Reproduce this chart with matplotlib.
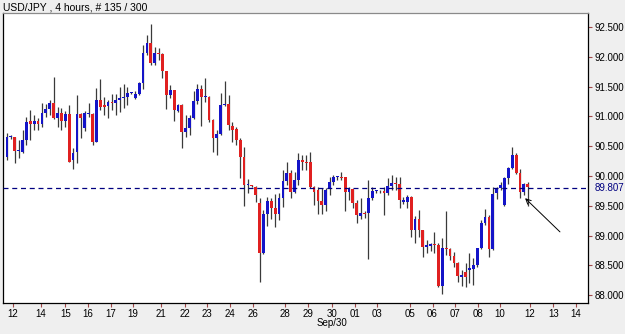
"""
USD/JPY 4-hour candlestick chart, MT4 style.
Saves out.png (625x334).
"""

import matplotlib
matplotlib.use("Agg")
import matplotlib.pyplot as plt
import numpy as np

plt.rcParams["font.family"] = ["Liberation Sans", "DejaVu Sans"]

# OHLC values, one entry per 4h bar
opens = [
    90.32, 90.65, 90.65, 90.42, 90.40, 90.60, 90.92, 90.87, 90.92, 90.87,
    91.06, 91.12, 91.22, 90.97, 91.06, 90.92, 91.04, 90.27, 90.40, 91.04,
    90.81, 91.04, 91.04, 90.57, 91.28, 91.19, 91.17, 91.24, 91.22, 91.28,
    91.31, 91.33, 91.39, 91.31, 91.38, 91.56, 92.06, 92.23, 91.90, 92.06,
    92.05, 91.76, 91.36, 91.44, 91.09, 91.19, 90.74, 90.81, 90.97, 91.26,
    91.46, 91.33, 91.33, 90.94, 90.64, 90.70, 91.19, 91.21, 90.84, 90.79,
    90.60, 90.32, 89.85, 89.84, 89.82, 89.55, 88.71, 89.36, 89.58, 89.46,
    89.36, 89.63, 89.92, 90.05, 89.73, 89.93, 90.27, 90.23, 90.23, 89.82,
    89.76, 89.58, 89.51, 89.78, 89.90, 89.98, 89.98, 89.98, 89.73, 89.78,
    89.55, 89.33, 89.38, 89.38, 89.63, 89.75, 89.74, 89.74, 89.71, 89.83,
    89.88, 89.86, 89.56, 89.56, 89.65, 89.09, 89.28, 89.09, 88.81, 88.83,
    88.85, 88.84, 88.15, 88.79, 88.78, 88.66, 88.54, 88.31, 88.39, 88.42,
    88.44, 88.51, 88.79, 89.21, 89.31, 88.78, 89.71, 89.80, 89.51, 89.97,
    90.13, 90.35, 90.05, 89.73, 89.87,
]
highs = [
    90.72, 90.69, 90.66, 90.60, 90.77, 90.99, 91.11, 91.02, 90.97, 91.22,
    91.21, 91.28, 91.66, 91.16, 91.14, 91.09, 91.19, 90.47, 91.36, 91.06,
    91.09, 91.22, 91.06, 91.48, 91.63, 91.33, 91.28, 91.38, 91.38, 91.50,
    91.55, 91.50, 91.41, 91.42, 91.58, 92.20, 92.37, 92.55, 92.16, 92.15,
    92.06, 91.77, 91.53, 91.45, 91.21, 91.20, 91.02, 91.02, 91.43, 91.55,
    91.53, 91.64, 91.35, 90.95, 90.77, 91.39, 91.59, 91.36, 90.91, 90.82,
    90.64, 90.49, 89.95, 89.85, 89.83, 89.63, 89.43, 89.65, 89.63, 89.70,
    89.71, 90.10, 90.23, 90.10, 90.07, 90.39, 90.35, 90.35, 90.40, 89.83,
    89.82, 89.80, 89.80, 89.98, 90.02, 90.00, 90.07, 89.99, 89.82, 89.79,
    89.60, 89.63, 89.41, 89.93, 89.82, 89.77, 89.76, 89.82, 89.97, 90.02,
    89.98, 89.98, 89.65, 89.68, 89.66, 89.33, 89.43, 89.10, 88.93, 88.88,
    89.06, 88.88, 88.96, 89.41, 88.79, 88.72, 88.56, 88.42, 88.54, 88.71,
    88.62, 88.80, 89.26, 89.45, 89.35, 89.82, 89.82, 89.90, 89.98, 90.15,
    90.49, 90.39, 90.12, 89.88, 89.90,
]
lows = [
    90.27, 90.62, 90.22, 90.30, 90.39, 90.52, 90.60, 90.77, 90.77, 90.82,
    90.99, 91.02, 90.96, 90.82, 90.77, 90.82, 90.23, 90.12, 90.22, 90.64,
    90.76, 90.99, 90.52, 90.57, 91.11, 91.02, 90.97, 91.11, 91.02, 91.07,
    91.14, 91.19, 91.37, 91.29, 91.36, 91.46, 92.03, 91.86, 91.86, 91.95,
    91.64, 91.12, 91.31, 90.92, 91.07, 90.47, 90.65, 90.69, 90.96, 91.21,
    90.84, 91.24, 90.91, 90.40, 90.35, 90.69, 91.18, 90.77, 90.57, 90.52,
    89.97, 89.50, 89.71, 89.82, 89.56, 88.22, 88.69, 89.16, 89.28, 89.14,
    89.26, 89.48, 89.85, 89.63, 89.71, 89.85, 90.10, 90.10, 89.80, 89.51,
    89.36, 89.36, 89.41, 89.68, 89.85, 89.93, 89.93, 89.41, 89.60, 89.46,
    89.21, 89.28, 89.30, 88.61, 89.60, 89.72, 89.71, 89.35, 89.68, 89.76,
    89.76, 89.46, 89.53, 89.46, 88.98, 88.88, 88.98, 88.64, 88.71, 88.74,
    88.71, 88.14, 88.02, 88.67, 88.59, 88.47, 88.22, 88.15, 88.14, 88.20,
    88.17, 88.48, 88.78, 89.18, 88.64, 88.76, 89.61, 89.76, 89.50, 89.87,
    90.12, 90.03, 89.63, 89.68, 89.50,
]
closes = [
    90.65, 90.66, 90.42, 90.43, 90.60, 90.91, 90.87, 90.92, 90.87, 91.06,
    91.12, 91.22, 90.97, 91.06, 90.92, 91.04, 90.23, 90.39, 91.04, 90.97,
    91.06, 91.05, 90.57, 91.28, 91.16, 91.16, 91.24, 91.23, 91.28, 91.31,
    91.31, 91.39, 91.39, 91.38, 91.56, 92.06, 92.23, 91.90, 92.06, 92.05,
    91.76, 91.36, 91.44, 91.11, 91.19, 90.74, 90.81, 90.97, 91.26, 91.46,
    91.33, 91.34, 90.94, 90.64, 90.70, 91.19, 91.21, 90.86, 90.77, 90.60,
    90.32, 89.85, 89.86, 89.83, 89.68, 88.71, 89.36, 89.58, 89.46, 89.36,
    89.63, 89.92, 90.05, 89.73, 89.93, 90.27, 90.23, 90.22, 89.82, 89.73,
    89.58, 89.51, 89.76, 89.90, 89.98, 89.98, 89.97, 89.73, 89.78, 89.55,
    89.35, 89.38, 89.37, 89.63, 89.75, 89.75, 89.74, 89.71, 89.83, 89.88,
    89.86, 89.60, 89.60, 89.65, 89.09, 89.28, 89.09, 88.81, 88.84, 88.86,
    88.84, 88.15, 88.79, 88.78, 88.66, 88.54, 88.32, 88.34, 88.31, 88.46,
    88.51, 88.79, 89.21, 89.31, 88.78, 89.70, 89.80, 89.85, 89.97, 90.13,
    90.35, 90.05, 89.73, 89.87, 89.81,
]

last_price = 89.807
price_ticks = [88.0, 88.5, 89.0, 89.5, 90.0, 90.5, 91.0, 91.5, 92.0, 92.5]

# date labels and the bar index they sit under
date_labels = ["12", "14", "15", "16", "17", "19", "21", "22", "23", "24", "26", "28",
               "29", "30", "01", "03", "05", "06", "07", "08", "10", "12", "13", "14"]
date_pos = [1.5, 8.75, 15.0, 20.9, 26.8, 32.3, 39.7, 45.8, 51.5, 57.4, 63.2, 71.6,
            77.5, 83.7, 89.6, 95.1, 103.7, 109.5, 115.4, 121.3, 126.9, 134.6, 140.6, 146.4]

UP = "#1414c8"
DOWN = "#e02020"
TICK_C = "#a04848"

fig = plt.figure(figsize=(6.25, 3.34), dpi=100, facecolor="#efefef")
ax = fig.add_axes([3 / 625, 1 - 303 / 334, 585 / 625, 290 / 334])
ax.set_facecolor("white")

o = np.array(opens)
h = np.array(highs)
l = np.array(lows)
c = np.array(closes)
x = np.arange(len(o))
up = c >= o
colors = np.where(up, UP, DOWN)

ax.vlines(x, l, h, color="#3a3a3a", lw=0.9, zorder=2)
body = np.maximum(np.abs(c - o), 0.015)
ax.bar(x, body, bottom=np.minimum(o, c), width=0.72, color=colors,
       linewidth=0, zorder=3)

# current price line
ax.axhline(last_price, color="#000080", lw=0.9, ls=(0, (4, 3)), zorder=4)

# arrow pointing at the last bars
ax.annotate("", xy=(132.8, 89.66), xytext=(142.8, 89.03),
            arrowprops=dict(arrowstyle="->", color="black", lw=0.7,
                            mutation_scale=9))

ax.set_xlim(-1.03, 149.5)
ax.set_ylim(87.869, 92.735)

ax.yaxis.tick_right()
ax.set_yticks(price_ticks)
ax.set_yticklabels([f"{v:.3f}" for v in price_ticks])
ax.set_xticks(date_pos)
ax.set_xticklabels(date_labels)
ax.tick_params(axis="both", colors=TICK_C, labelcolor="black", labelsize=7,
               length=3, width=0.8, pad=1.5)

for s in ax.spines.values():
    s.set_color("black")
    s.set_linewidth(0.9)
ax.spines["top"].set_color("#8a8a8a")

# last price label on the right axis
ax.annotate(f"{last_price:.3f}", xy=(1.0, last_price),
            xycoords=("axes fraction", "data"), xytext=(4.5, 0),
            textcoords="offset points", va="center", ha="left",
            fontsize=7, color="#000080")

ax.text(83.7, -0.07, "Sep/30", transform=ax.get_xaxis_transform(),
        ha="center", va="center", fontsize=7)

fig.text(3 / 625, 1 - 7.5 / 334, "USD/JPY , 4 hours, # 135 / 300",
         ha="left", va="center", fontsize=7.5)

fig.savefig("out.png", dpi=100, facecolor=fig.get_facecolor())
